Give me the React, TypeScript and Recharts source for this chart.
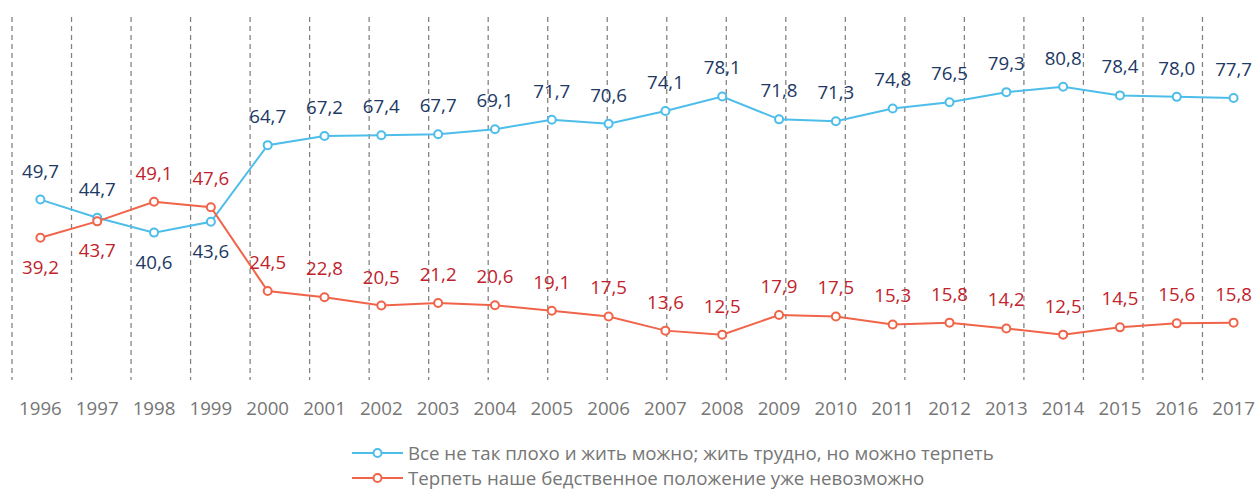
import React from 'react';
import { LineChart, Line, XAxis, YAxis, CartesianGrid, Legend, LabelList } from 'recharts';

const years = ['1996', '1997', '1998', '1999', '2000', '2001', '2002', '2003', '2004', '2005', '2006', '2007', '2008', '2009', '2010', '2011', '2012', '2013', '2014', '2015', '2016', '2017'];
const tolerableValues = [49.7, 44.7, 40.6, 43.6, 64.7, 67.2, 67.4, 67.7, 69.1, 71.7, 70.6, 74.1, 78.1, 71.8, 71.3, 74.8, 76.5, 79.3, 80.8, 78.4, 78.0, 77.7];
const unbearableValues = [39.2, 43.7, 49.1, 47.6, 24.5, 22.8, 20.5, 21.2, 20.6, 19.1, 17.5, 13.6, 12.5, 17.9, 17.5, 15.3, 15.8, 14.2, 12.5, 14.5, 15.6, 15.8];
const tolerableName = 'Все не так плохо и жить можно; жить трудно, но можно терпеть';
const unbearableName = 'Терпеть наше бедственное положение уже невозможно';
const tolerableBelow = ['1998', '1999'];
const unbearableBelow = ['1996', '1997'];
const gridBoundaries = years.map((_, i) => i).concat([years.length]);

const data = years.map((year, i) => ({ year, tolerable: tolerableValues[i], unbearable: unbearableValues[i] }));

const BLUE = '#4DBDEA';
const RED = '#F0644A';
const BLUE_TEXT = '#203864';
const RED_TEXT = '#C0232C';
const GRAY = '#767676';
const FONT = '"Open Sans", sans-serif';
const FS = 18.7;

const makeLabel = (color: string, below: string[]) => (props: any) => {
  const x = props.viewBox?.x ?? props.x;
  const y = props.viewBox?.y ?? props.y;
  const idx = props.index;
  const isBelow = below.includes(years[idx]);
  const v = Number(props.value);
  return (
    <text
      x={x}
      y={isBelow ? y + 36 : y - 22}
      textAnchor="middle"
      fill={color}
      fontSize={FS}
      fontFamily={FONT}
    >
      {v.toFixed(1).replace('.', ',')}
    </text>
  );
};

const renderLegend = (props: any) => {
  const payload = props.payload || [];
  return (
    <div style={{ paddingTop: 11, paddingLeft: 340, fontFamily: FONT, fontSize: FS, color: GRAY }}>
      {payload.map((p: any) => (
        <div key={p.value} style={{ display: 'flex', alignItems: 'center', height: 25 }}>
          <svg width={51} height={12} style={{ display: 'block' }}>
            <line x1={0} y1={6} x2={51} y2={6} stroke={p.color} strokeWidth={2} />
            <circle cx={25.5} cy={6} r={4} fill="#fff" stroke={p.color} strokeWidth={2} />
          </svg>
          <span style={{ marginLeft: 5, whiteSpace: 'nowrap', lineHeight: '25px' }}>{p.value}</span>
        </div>
      ))}
    </div>
  );
};

export default function App() {
  return (
    <div style={{ position: 'absolute', left: 0, top: 0, width: 1256, height: 490, overflow: 'hidden', background: '#fff' }}>
      <LineChart width={1270} height={490} data={data} margin={{ top: 17, left: 12, right: 8, bottom: 0 }}>
        <XAxis xAxisId="grid" type="number" domain={[0, years.length]} ticks={gridBoundaries} allowDataOverflow hide />
        <XAxis
          dataKey="year"
          scale="band"
          interval={0}
          axisLine={false}
          tickLine={false}
          tickSize={0}
          tickMargin={22}
          height={49}
          tick={{ fill: GRAY, fontSize: FS, fontFamily: FONT }}
        />
        <YAxis hide domain={[0, 100]} />
        <CartesianGrid xAxisId="grid" horizontal={false} strokeDasharray="5 4" stroke="#808080" strokeWidth={1.25} />
        <Legend verticalAlign="bottom" align="left" content={renderLegend} />
        <Line
          dataKey="tolerable"
          name={tolerableName}
          stroke={BLUE}
          strokeWidth={2}
          dot={{ r: 4, fill: '#fff', stroke: BLUE, strokeWidth: 2 }}
          activeDot={false}
          isAnimationActive={false}
        >
          <LabelList dataKey="tolerable" content={makeLabel(BLUE_TEXT, tolerableBelow)} />
        </Line>
        <Line
          dataKey="unbearable"
          name={unbearableName}
          stroke={RED}
          strokeWidth={2}
          dot={{ r: 4, fill: '#fff', stroke: RED, strokeWidth: 2 }}
          activeDot={false}
          isAnimationActive={false}
        >
          <LabelList dataKey="unbearable" content={makeLabel(RED_TEXT, unbearableBelow)} />
        </Line>
      </LineChart>
    </div>
  );
}
